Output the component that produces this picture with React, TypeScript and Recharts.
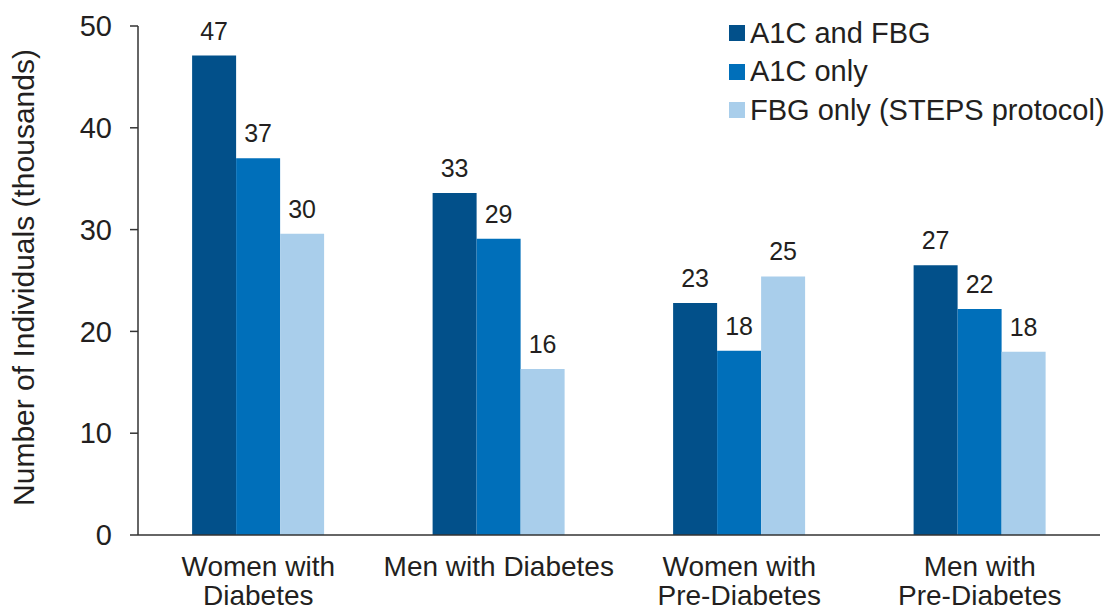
import { BarChart, Bar, XAxis, YAxis, Legend, LabelList, Label } from 'recharts';

const CATEGORIES = ['Women with\nDiabetes', 'Men with Diabetes', 'Women with\nPre-Diabetes', 'Men with\nPre-Diabetes'];
const A1C_AND_FBG = [47.1, 33.6, 22.8, 26.5];
const A1C_ONLY = [37.0, 29.1, 18.1, 22.2];
const FBG_ONLY = [29.6, 16.3, 25.4, 18.0];
const A1C_AND_FBG_LABELS = ['47', '33', '23', '27'];
const A1C_ONLY_LABELS = ['37', '29', '18', '22'];
const FBG_ONLY_LABELS = ['30', '16', '25', '18'];
const Y_TICKS = [0, 10, 20, 30, 40, 50];

const SERIES = [
  { key: 'both', name: 'A1C and FBG', color: '#02508A', labelKey: 'bothLabel' },
  { key: 'a1c', name: 'A1C only', color: '#006FBA', labelKey: 'a1cLabel' },
  { key: 'fbg', name: 'FBG only (STEPS protocol)', color: '#A9CEEB', labelKey: 'fbgLabel' },
];

const data = CATEGORIES.map((name, i) => ({
  name,
  both: A1C_AND_FBG[i],
  a1c: A1C_ONLY[i],
  fbg: FBG_ONLY[i],
  bothLabel: A1C_AND_FBG_LABELS[i],
  a1cLabel: A1C_ONLY_LABELS[i],
  fbgLabel: FBG_ONLY_LABELS[i],
}));

const FONT = '"Liberation Sans", Arial, sans-serif';
const TEXT = '#231F20';

function CategoryTick({ x, y, payload }: any) {
  const lines = String(payload.value).split('\n');
  return (
    <text x={x} y={y} textAnchor="middle" fill={TEXT} fontSize={28} fontFamily={FONT}>
      {lines.map((line, i) => (
        <tspan key={i} x={x} dy={i === 0 ? 33 : 29}>
          {line}
        </tspan>
      ))}
    </text>
  );
}

function LegendContent() {
  return (
    <div style={{ fontFamily: FONT, fontSize: 29, color: TEXT }}>
      {SERIES.map((s) => (
        <div key={s.key} style={{ display: 'flex', alignItems: 'center', height: 38.5 }}>
          <span style={{ width: 16, height: 16, background: s.color, marginRight: 5, display: 'inline-block' }} />
          <span>{s.name}</span>
        </div>
      ))}
    </div>
  );
}

export default function App() {
  return (
    <div style={{ position: 'absolute', left: 0, top: 0, background: '#fff' }}>
      <BarChart
        width={1107}
        height={611}
        data={data}
        margin={{ top: 26, right: 7, left: 0, bottom: 46 }}
        barCategoryGap="22.5%"
        barGap={0}
      >
        <XAxis
          dataKey="name"
          height={30}
          tick={<CategoryTick />}
          tickLine={false}
          axisLine={{ stroke: '#333', strokeWidth: 1.5 }}
          interval={0}
        />
        <YAxis
          width={138}
          domain={[0, 50]}
          ticks={Y_TICKS}
          tickSize={8}
          tickMargin={18}
          axisLine={{ stroke: '#333', strokeWidth: 1.5 }}
          tickLine={{ stroke: '#333', strokeWidth: 1.5 }}
          tick={{ fontSize: 29, fill: TEXT, fontFamily: FONT }}
        >
          <Label
            value="Number of Individuals (thousands)"
            angle={-90}
            position="insideLeft"
            offset={23}
            dy={-3}
            style={{ textAnchor: 'middle', fontSize: 30, fill: TEXT, fontFamily: FONT }}
          />
        </YAxis>
        <Legend
          layout="horizontal"
          verticalAlign="middle"
          content={<LegendContent />}
          wrapperStyle={{ position: 'absolute', left: 729, top: 14, width: 380 }}
        />
        {SERIES.map((s) => (
          <Bar key={s.key} dataKey={s.key} name={s.name} fill={s.color} isAnimationActive={false}>
            <LabelList
              dataKey={s.labelKey}
              position="top"
              offset={16}
              style={{ fontSize: 25, fill: TEXT, fontFamily: FONT }}
            />
          </Bar>
        ))}
      </BarChart>
    </div>
  );
}
